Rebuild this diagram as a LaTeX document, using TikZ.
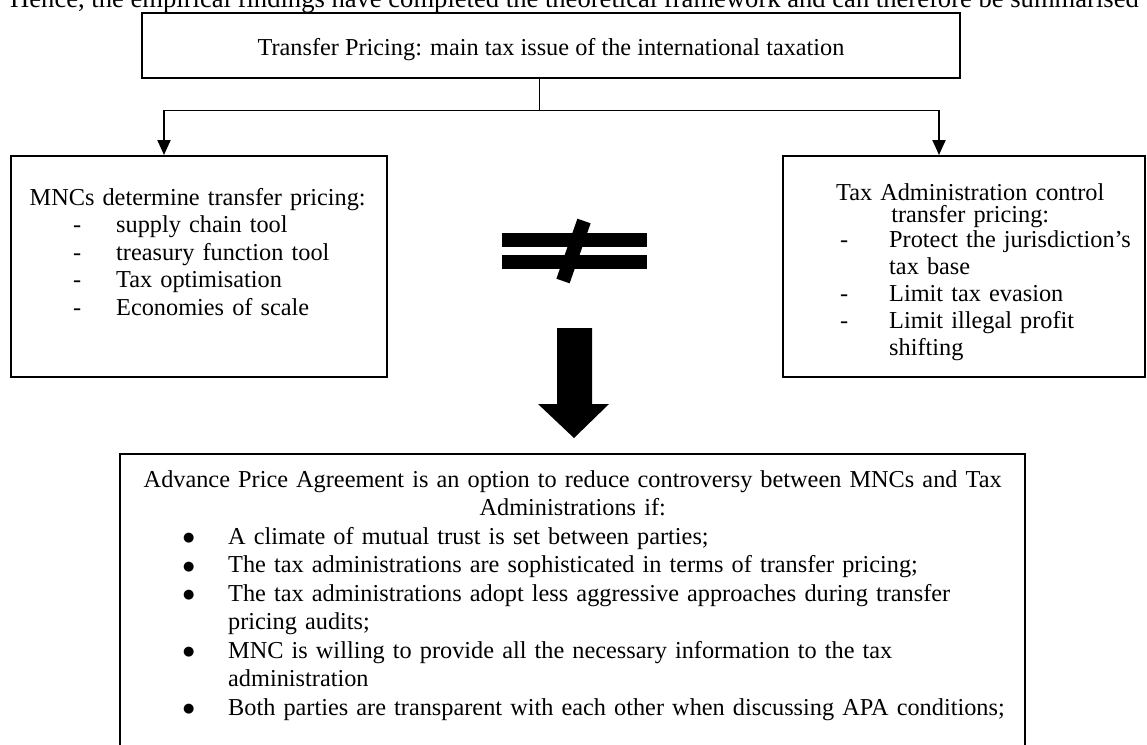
\documentclass[tikz,border=0pt]{standalone}
\usepackage{fontspec}
\setmainfont{Liberation Serif}
\newfontfamily\symfont{DejaVu Sans}
\usetikzlibrary{arrows.meta}
\newcommand{\bigdot}{\raisebox{2.5pt}{\symfont\fontsize{13}{15}\selectfont ●}}
\begin{document}
\begin{tikzpicture}[x=1pt,y=-1pt,
  box/.style={draw, line width=2pt, inner sep=0pt},
  body/.style={inner sep=0pt, anchor=base west, align=left},
  link/.style={line width=0.9pt},
  down/.style={line width=2pt, -{Triangle[width=13pt,length=15pt]}},
  solidshape/.style={fill=black, draw=none}]
\useasboundingbox (0,0) rectangle (1147,744);

% intro sentence (cropped at the top)
\node[inner sep=0pt, anchor=base west, font=\fontsize{26.6}{30}\selectfont] (intro) at (10,7)
  {Hence, the empirical findings have completed the theoretical framework and can therefore be summarised};

% top box
\node[box, minimum width=818pt, minimum height=65pt, text height=19pt, text depth=0pt,
      font=\fontsize{24.3}{27.6}\selectfont] (top) at (551,45.5)
  {Transfer Pricing: main tax issue of the international taxation};

% left box
\node[box, minimum width=376pt, minimum height=221pt] (lbox) at (199,266.5) {};
\node[body, text width=360pt, font=\fontsize{24.3}{27.5}\selectfont] (ltext) at (20,205)
  {\makebox[355pt][c]{MNCs determine transfer pricing:}\\
   \hspace*{53pt}\makebox[43pt][l]{-}supply chain tool\\
   \hspace*{53pt}\makebox[43pt][l]{-}treasury function tool\\
   \hspace*{53pt}\makebox[43pt][l]{-}Tax optimisation\\
   \hspace*{53pt}\makebox[43pt][l]{-}Economies of scale};

% right box
\node[box, minimum width=362pt, minimum height=221pt] (rbox) at (964,266.5) {};
\node[body, text width=356pt, font=\fontsize{24.3}{27}\selectfont] (rtext) at (792,200)
  {\makebox[356pt][c]{Tax Administration control}\\[-5pt]
   \makebox[356pt][c]{transfer pricing:}\\[-2pt]
   \hspace*{48pt}\makebox[49pt][l]{-}Protect the jurisdiction’s\\
   \hspace*{97pt}tax base\\
   \hspace*{48pt}\makebox[49pt][l]{-}Limit tax evasion\\
   \hspace*{48pt}\makebox[49pt][l]{-}Limit illegal profit\\
   \hspace*{97pt}shifting};

% bottom box (runs past the lower edge)
\node[box, minimum width=905pt, minimum height=316pt] (bbox) at (572.5,612) {};
\node[body, text width=895pt, font=\fontsize{24.3}{28.5}\selectfont] (btext) at (128,487)
  {\makebox[889pt][c]{Advance Price Agreement is an option to reduce controversy between MNCs and Tax}\\
   \makebox[889pt][c]{Administrations if:}\\
   \hspace*{55pt}\makebox[45pt][l]{\bigdot}A climate of mutual trust is set between parties;\\
   \hspace*{55pt}\makebox[45pt][l]{\bigdot}The tax administrations are sophisticated in terms of transfer pricing;\\
   \hspace*{55pt}\makebox[45pt][l]{\bigdot}The tax administrations adopt less aggressive approaches during transfer\\
   \hspace*{100pt}pricing audits;\\
   \hspace*{55pt}\makebox[45pt][l]{\bigdot}MNC is willing to provide all the necessary information to the tax\\
   \hspace*{100pt}administration\\
   \hspace*{55pt}\makebox[45pt][l]{\bigdot}Both parties are transparent with each other when discussing APA conditions;};

% connectors
\coordinate (split) at (539,110);
\coordinate (lturn) at (164,110);
\coordinate (rturn) at (939,110);
\draw[link] (top.south -| split) -- (split);
\draw[link] (lturn) -- (rturn);
\draw[down] (lturn) -- (lturn |- lbox.north);
\draw[down] (rturn) -- (rturn |- rbox.north);

% not-equal sign
\fill[solidshape] (502,233) rectangle (647,247);
\fill[solidshape] (502,255) rectangle (647,269);
\draw[line width=14pt] (584,221) -- (563,281);

% big downward arrow
\fill[solidshape] (557,328) -- (592,328) -- (592,404) -- (609,404) -- (574,438)
  -- (538,404) -- (557,404) -- cycle;
\end{tikzpicture}
\end{document}
